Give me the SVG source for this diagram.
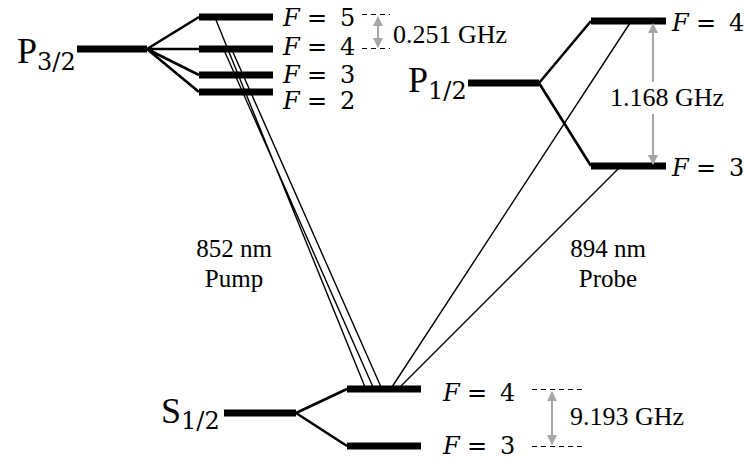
<svg xmlns="http://www.w3.org/2000/svg" width="746" height="461" viewBox="0 0 746 461">
<defs>
<style>
.bar{stroke:#000;stroke-width:7;fill:none}
.split{stroke:#000;stroke-width:2.6;fill:none}
.beam{stroke:#000;stroke-width:1.4;fill:none}
.gap{stroke:#a6a6a6;stroke-width:2;fill:none}
.dash{stroke:#000;stroke-width:1;stroke-dasharray:5,4;fill:none}
.t{font-family:"Liberation Serif","Times New Roman",serif;fill:#000}
.m{font-family:"DejaVu Serif","Liberation Serif",serif;fill:#000;font-size:24px}
.lab{font-size:26px}
.lab25{font-size:25px}
.fi{font-style:italic}
.big{font-size:36px}
.sub{font-family:"DejaVu Serif","Liberation Serif",serif;font-size:24px}
</style>
<marker id="ah" viewBox="0 0 10 10" refX="9" refY="5" markerWidth="5" markerHeight="5" orient="auto-start-reverse" markerUnits="strokeWidth">
<path d="M0,0 L10,5 L0,10 Z" fill="#a6a6a6"/>
</marker>
</defs>
<rect width="746" height="461" fill="#fff"/>

<g id="connectors">
<path class="split" d="M147,49 L199,17 M147,49 L199,49 M147,49 L199,75 M147,49 L199,92"/>
<path class="split" d="M539,83 L591,21 M539,83 L591,166"/>
<path class="split" d="M296,413 L347,389 M296,413 L347,446"/>
<path class="beam" d="M216,20 L365,387 M224,50 L373,387 M232,50 L381,387"/>
<path class="beam" d="M630,23 L392,387 M619,168 L400,387"/>
</g>

<g id="P32">
<line class="bar" x1="77" y1="49" x2="147" y2="49"/>
<text class="t big" x="17" y="63">P<tspan class="sub" dy="7">3/2</tspan></text>
</g>
<g id="P32-F5">
<line class="bar" x1="199" y1="17" x2="273" y2="17"/>
<text class="m" y="26"><tspan class="fi" x="283">F</tspan><tspan x="307">=</tspan><tspan x="340">5</tspan></text>
</g>
<g id="P32-F4">
<line class="bar" x1="199" y1="49" x2="273" y2="49"/>
<text class="m" y="55"><tspan class="fi" x="283">F</tspan><tspan x="307">=</tspan><tspan x="340">4</tspan></text>
</g>
<g id="P32-F3">
<line class="bar" x1="199" y1="75" x2="273" y2="75"/>
<text class="m" y="83"><tspan class="fi" x="283">F</tspan><tspan x="307">=</tspan><tspan x="340">3</tspan></text>
</g>
<g id="P32-F2">
<line class="bar" x1="199" y1="92" x2="273" y2="92"/>
<text class="m" y="109"><tspan class="fi" x="283">F</tspan><tspan x="307">=</tspan><tspan x="340">2</tspan></text>
</g>
<g id="gap-0251">
<line class="dash" x1="362" y1="14.5" x2="390" y2="14.5"/>
<line class="dash" x1="362" y1="48.5" x2="390" y2="48.5"/>
<line class="gap" x1="378" y1="17" x2="378" y2="47" marker-start="url(#ah)" marker-end="url(#ah)"/>
<text class="t lab" x="393" y="43">0.251 GHz</text>
</g>

<g id="P12">
<line class="bar" x1="468" y1="83" x2="539" y2="83"/>
<text class="t big" x="408" y="92">P<tspan class="sub" dy="7">1/2</tspan></text>
</g>
<g id="P12-F4">
<line class="bar" x1="591" y1="21" x2="666" y2="21"/>
<text class="m" y="31"><tspan class="fi" x="672">F</tspan><tspan x="696">=</tspan><tspan x="729">4</tspan></text>
</g>
<g id="P12-F3">
<line class="bar" x1="591" y1="166" x2="666" y2="166"/>
<text class="m" y="176"><tspan class="fi" x="672">F</tspan><tspan x="696">=</tspan><tspan x="729">3</tspan></text>
</g>
<g id="gap-1168">
<line class="gap" x1="653" y1="82" x2="653" y2="24" marker-end="url(#ah)"/>
<line class="gap" x1="653" y1="114" x2="653" y2="164" marker-end="url(#ah)"/>
<text class="t lab" x="610" y="106">1.168 GHz</text>
</g>

<g id="S12">
<line class="bar" x1="224" y1="413" x2="296" y2="413"/>
<text class="t big" x="161" y="423">S<tspan class="sub" dy="6">1/2</tspan></text>
</g>
<g id="S12-F4">
<line class="bar" x1="347" y1="389" x2="421" y2="389"/>
<text class="m" y="401"><tspan class="fi" x="443">F</tspan><tspan x="467">=</tspan><tspan x="500">4</tspan></text>
</g>
<g id="S12-F3">
<line class="bar" x1="347" y1="446" x2="421" y2="446"/>
<text class="m" y="454"><tspan class="fi" x="443">F</tspan><tspan x="467">=</tspan><tspan x="500">3</tspan></text>
</g>
<g id="gap-9193">
<line class="dash" x1="532" y1="389.5" x2="582" y2="389.5"/>
<line class="dash" x1="532" y1="446.5" x2="582" y2="446.5"/>
<line class="gap" x1="552" y1="392" x2="552" y2="444" marker-start="url(#ah)" marker-end="url(#ah)"/>
<text class="t lab" x="570" y="425">9.193 GHz</text>
</g>

<g id="pump-label">
<text class="t lab25" x="234" y="257" text-anchor="middle">852 nm</text>
<text class="t lab25" x="234" y="287" text-anchor="middle">Pump</text>
</g>
<g id="probe-label">
<text class="t lab25" x="608" y="257" text-anchor="middle">894 nm</text>
<text class="t lab25" x="608" y="287" text-anchor="middle">Probe</text>
</g>
</svg>
